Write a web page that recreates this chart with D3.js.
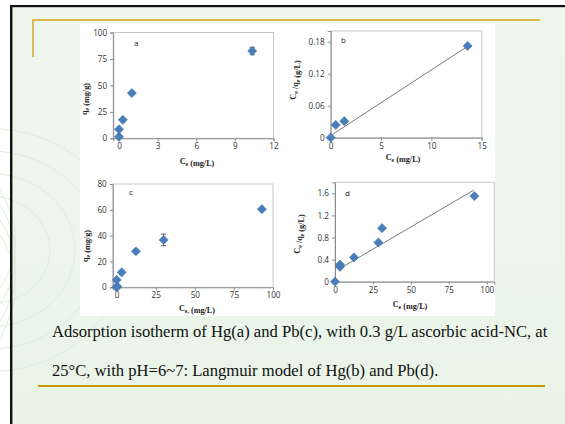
<!DOCTYPE html>
<html>
<head>
<meta charset="utf-8">
<script src="https://cdn.jsdelivr.net/npm/d3@7"></script>
<style>
  html, body { margin: 0; padding: 0; background: #ffffff; }
  svg { display: block; }
</style>
</head>
<body>
<svg id="fig" width="565" height="424"></svg>
<script>
// Hg isotherm (panel a)
const hgCe = [0, 0, 0.3, 1.0, 10.35];
const hgQe = [1.5, 8.5, 17.5, 42.7, 82.5];
const hgErr = [0, 0, 0, 0, 3.5];
// Hg Langmuir linearisation (panel b)
const hgLinCe = [0, 0.5, 1.35, 13.6];
const hgLinCq = [0, 0.024, 0.031, 0.172];
const hgFit = [0.004, 0.0123];       // intercept, slope
const hgFitRange = [0, 13.6];
// Pb isotherm (panel c)
const pbCe = [0, 0.3, 0, 3.2, 12.3, 30, 92.9];
const pbQe = [0, 0.8, 5.7, 11.6, 27.9, 36.7, 60.5];
const pbErr = [0, 0, 0, 0, 0, 4.5, 0];
// Pb Langmuir linearisation (panel d)
const pbLinCe = [0, 3.3, 3.3, 12.5, 28.6, 31, 91.9];
const pbLinCq = [0, 0.27, 0.31, 0.44, 0.71, 0.97, 1.55];
const pbFit = [0.187, 0.01608];
const pbFitRange = [3.3, 91.5];
// Tick values
const ticksAx = [0, 3, 6, 9, 12], ticksAy = [0, 25, 50, 75, 100];
const ticksBx = [0, 5, 10, 15], ticksBy = [0, 0.06, 0.12, 0.18];
const ticksCx = [0, 25, 50, 75, 100], ticksCy = [0, 20, 40, 60, 80];
const ticksDx = [0, 25, 50, 75, 100], ticksDy = [0, 0.4, 0.8, 1.2, 1.6];
const captionLines = [
  "Adsorption isotherm of Hg(a) and Pb(c), with 0.3 g/L ascorbic acid-NC, at",
  "25\u00b0C, with pH=6~7: Langmuir model of Hg(b) and Pb(d)."
];

const svg = d3.select("#fig");

// slide background
const defs = svg.append("defs");
const grad = defs.append("linearGradient").attr("id", "bg").attr("x1", 0).attr("y1", 0).attr("x2", 0).attr("y2", 1);
grad.append("stop").attr("offset", "0%").attr("stop-color", "#eef7ee");
grad.append("stop").attr("offset", "100%").attr("stop-color", "#e9f4e7");
svg.append("rect").attr("x", 11).attr("y", 6).attr("width", 554).attr("height", 418).attr("fill", "url(#bg)");

// faint globe lines on the left
const globe = svg.append("g").attr("fill", "none").attr("stroke", "#dcebe0").attr("stroke-width", 1).attr("opacity", 0.9);
[60, 85, 110, 135].forEach(r => {
  globe.append("ellipse").attr("cx", -10).attr("cy", 250).attr("rx", r).attr("ry", r * 0.9);
});
[-30, -10, 10, 30].forEach(a => {
  globe.append("path").attr("d", `M-40,${170 + a} Q60,${250 + a * 0.4} -20,${340 + a}`);
});

// slide frame lines
svg.append("rect").attr("x", 10).attr("y", 5).attr("width", 555).attr("height", 2.2).attr("fill", "#111");
svg.append("rect").attr("x", 10).attr("y", 5).attr("width", 2.4).attr("height", 419).attr("fill", "#111");
svg.append("path").attr("d", "M33,57 V20 H540").attr("fill", "none").attr("stroke", "#d9b84a").attr("stroke-width", 1.8);
svg.append("line").attr("x1", 38).attr("x2", 545).attr("y1", 386).attr("y2", 386).attr("stroke", "#c99a06").attr("stroke-width", 2);

// white figure area
svg.append("rect").attr("x", 80).attr("y", 24).attr("width", 415).attr("height", 292).attr("fill", "#ffffff");

const diamond = "M0,-4.6 L4.6,0 L0,4.6 L-4.6,0 Z";

function sub(textSel, parts) {
  parts.forEach(p => {
    if (p.sub) {
      textSel.append("tspan").attr("font-size", "5.8px").attr("dy", 1.9).text(p.t);
      textSel.append("tspan").attr("dy", -1.9).text("");
    } else {
      textSel.append("tspan").text(p.t);
    }
  });
}

function panel(o) {
  const x = d3.scaleLinear().domain(o.xDom).range(o.xRange);
  const y = d3.scaleLinear().domain(o.yDom).range(o.yRange);
  const g = svg.append("g");
  // plot frame
  g.append("rect")
    .attr("x", o.xRange[0]).attr("y", o.yRange[1])
    .attr("width", o.xRange[1] - o.xRange[0]).attr("height", o.yRange[0] - o.yRange[1])
    .attr("fill", "none").attr("stroke", "#c8c8c8").attr("stroke-width", 1);

  const ax = g.append("g").attr("transform", `translate(0,${o.yRange[0]})`)
    .call(d3.axisBottom(x).tickValues(o.xt).tickSize(3).tickPadding(2).tickFormat(d3.format("")));
  const ay = g.append("g").attr("transform", `translate(${o.xRange[0]},0)`)
    .call(d3.axisLeft(y).tickValues(o.yt).tickSize(3).tickPadding(3).tickFormat(o.yFmt || d3.format("")));
  [ax, ay].forEach(a => {
    a.select(".domain").attr("stroke", "#8c8c8c");
    a.selectAll(".tick line").attr("stroke", "#8c8c8c");
    a.selectAll(".tick text").attr("fill", "#333").attr("font-family", "'Open Sans', 'Liberation Sans', sans-serif").attr("font-size", "8.2px");
  });

  // fitted line
  if (o.fit) {
    const f = v => o.fit[0] + o.fit[1] * v;
    g.append("line")
      .attr("x1", x(o.fitRange[0])).attr("y1", y(f(o.fitRange[0])))
      .attr("x2", x(o.fitRange[1])).attr("y2", y(f(o.fitRange[1])))
      .attr("stroke", "#6b6b6b").attr("stroke-width", 0.9);
  }

  // error bars
  o.xs.forEach((xv, i) => {
    const e = o.err ? o.err[i] : 0;
    if (!e) return;
    const cx = x(xv), y1 = y(o.ys[i] - e), y2 = y(o.ys[i] + e);
    g.append("line").attr("x1", cx).attr("x2", cx).attr("y1", y1).attr("y2", y2).attr("stroke", "#333").attr("stroke-width", 0.8);
    g.append("line").attr("x1", cx - 2.5).attr("x2", cx + 2.5).attr("y1", y1).attr("y2", y1).attr("stroke", "#333").attr("stroke-width", 0.8);
    g.append("line").attr("x1", cx - 2.5).attr("x2", cx + 2.5).attr("y1", y2).attr("y2", y2).attr("stroke", "#333").attr("stroke-width", 0.8);
  });

  // markers
  g.selectAll("path.pt").data(o.xs.map((xv, i) => [xv, o.ys[i]])).join("path")
    .attr("class", "pt")
    .attr("d", diamond)
    .attr("transform", d => `translate(${x(d[0])},${y(d[1])})`)
    .attr("fill", "#4a7ebb").attr("stroke", "#3d6fa8").attr("stroke-width", 0.5);

  // panel letter
  g.append("text").attr("x", o.letterPos[0]).attr("y", o.letterPos[1])
    .attr("font-family", "'Open Sans', 'Liberation Sans', sans-serif").attr("font-size", "8px").attr("fill", "#222")
    .text(o.letter);

  // axis titles
  const xt = g.append("text").attr("x", o.xTitlePos[0]).attr("y", o.xTitlePos[1])
    .attr("text-anchor", "middle").attr("font-family", "'Liberation Serif', serif").attr("font-weight", "bold")
    .attr("font-size", "8.2px").attr("fill", "#222");
  sub(xt, o.xTitle);
  const yt = g.append("text").attr("transform", `translate(${o.yTitlePos[0]},${o.yTitlePos[1]}) rotate(-90)`)
    .attr("text-anchor", "middle").attr("font-family", "'Liberation Serif', serif").attr("font-weight", "bold")
    .attr("font-size", "8.2px").attr("fill", "#222");
  sub(yt, o.yTitle);
}

panel({
  xDom: [-0.45, 12], xRange: [113.2, 273.5], yDom: [0, 100], yRange: [138.3, 32.5],
  xt: ticksAx, yt: ticksAy, xs: hgCe, ys: hgQe, err: hgErr,
  letter: "a", letterPos: [134, 46],
  xTitle: [{t: "C"}, {t: "e", sub: true}, {t: " (mg/L)"}], xTitlePos: [197, 164],
  yTitle: [{t: "q"}, {t: "e", sub: true}, {t: " (mg/g)"}], yTitlePos: [87, 99]
});
panel({
  xDom: [0, 15], xRange: [330.7, 481.7], yDom: [0, 0.2], yRange: [137.7, 31],
  xt: ticksBx, yt: ticksBy, xs: hgLinCe, ys: hgLinCq, fit: hgFit, fitRange: hgFitRange,
  yFmt: d => d === 0 ? "0" : d3.format(".2f")(d),
  letter: "b", letterPos: [341, 43],
  xTitle: [{t: "C"}, {t: "e", sub: true}, {t: " (mg/L)"}], xTitlePos: [403, 160],
  yTitle: [{t: "C"}, {t: "e", sub: true}, {t: " /q"}, {t: "e", sub: true}, {t: " (g/L)"}], yTitlePos: [296, 80]
});
panel({
  xDom: [-2.5, 100], xRange: [112.8, 273], yDom: [0, 80], yRange: [287.3, 184],
  xt: ticksCx, yt: ticksCy, xs: pbCe, ys: pbQe, err: pbErr,
  letter: "c", letterPos: [129, 195],
  xTitle: [{t: "C"}, {t: "e,", sub: true}, {t: " (mg/L)"}], xTitlePos: [197, 311],
  yTitle: [{t: "q"}, {t: "e", sub: true}, {t: " (mg/g)"}], yTitlePos: [88, 246]
});
panel({
  xDom: [0, 105], xRange: [335, 494.3], yDom: [0, 1.8], yRange: [281.7, 182.3],
  xt: ticksDx, yt: ticksDy, xs: pbLinCe, ys: pbLinCq, fit: pbFit, fitRange: pbFitRange,
  yFmt: d => d === 0 ? "0" : d3.format(".1f")(d),
  letter: "d", letterPos: [345, 196],
  xTitle: [{t: "C"}, {t: "e", sub: true}, {t: " (mg/L)"}], xTitlePos: [410, 307],
  yTitle: [{t: "C"}, {t: "e", sub: true}, {t: " /q"}, {t: "e", sub: true}, {t: " (g/L)"}], yTitlePos: [300, 234]
});

// caption
svg.append("g").selectAll("text").data(captionLines).join("text")
  .attr("x", 52).attr("y", (d, i) => 337 + i * 39)
  .attr("font-family", "'Liberation Serif', 'Times New Roman', serif").attr("font-size", "16.6px").attr("fill", "#111")
  .text(d => d);
</script>
</body>
</html>
